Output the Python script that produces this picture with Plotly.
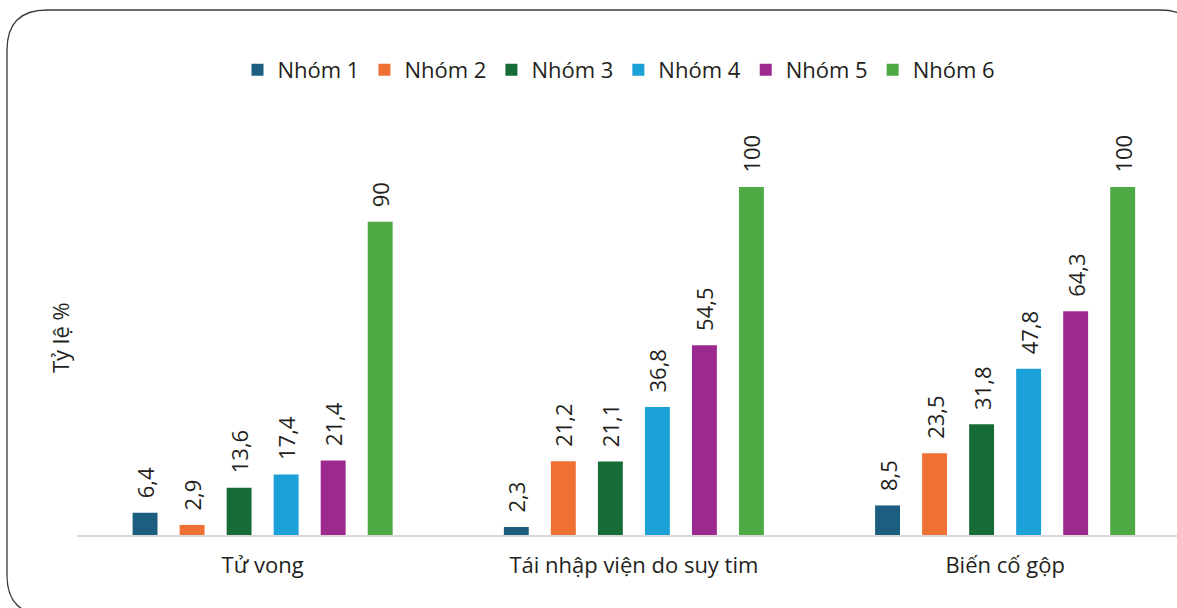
import plotly.graph_objects as go

# Outcome categories and group rates (%)
categories = ["Tử vong", "Tái nhập viện do suy tim", "Biến cố gộp"]
groups = ["Nhóm 1", "Nhóm 2", "Nhóm 3", "Nhóm 4", "Nhóm 5", "Nhóm 6"]
values = {
    "Nhóm 1": [6.4, 2.3, 8.5],
    "Nhóm 2": [2.9, 21.2, 23.5],
    "Nhóm 3": [13.6, 21.1, 31.8],
    "Nhóm 4": [17.4, 36.8, 47.8],
    "Nhóm 5": [21.4, 54.5, 64.3],
    "Nhóm 6": [90, 100, 100],
}
colors = ["#1b5e80", "#ee7032", "#176b36", "#1ba0d8", "#9c2a8e", "#4ea844"]
y_title = "Tỷ lệ %"

W, H = 1177, 608
L, R, T, B = 77, 0, 110, 73
FONT = "Open Sans"
TXT = "#231f20"
FS = 22


def fmt(v):
    s = f"{v:g}"
    return s.replace(".", ",")


fig = go.Figure()
for g, c in zip(groups, colors):
    vals = values[g]
    fig.add_trace(go.Bar(
        name=g,
        x=categories,
        y=vals,
        marker=dict(color=c, line=dict(width=0)),
        text=[fmt(v) for v in vals],
        texttemplate="\u00a0\u00a0%{text}",
        textposition="outside",
        textangle=-90,
        constraintext="none",
        textfont=dict(family=FONT, size=FS, color=TXT),
        cliponaxis=False,
    ))

pw = W - L - R
ph = H - T - B


def px(x):
    return (x - L) / pw


def py(y):
    return (H - B - y) / ph


# rounded frame around the chart
x0, y0, x1, y1, r = 7, 10, 1200, 615, 40
path = (
    f"M {px(x0)},{py(y0 + r)} "
    f"Q {px(x0)},{py(y0)} {px(x0 + r)},{py(y0)} "
    f"L {px(x1 - r)},{py(y0)} "
    f"Q {px(x1)},{py(y0)} {px(x1)},{py(y0 + r)} "
    f"L {px(x1)},{py(y1 - r)} "
    f"Q {px(x1)},{py(y1)} {px(x1 - r)},{py(y1)} "
    f"L {px(x0 + r)},{py(y1)} "
    f"Q {px(x0)},{py(y1)} {px(x0)},{py(y1 - r)} Z"
)

fig.update_layout(
    width=W, height=H,
    margin=dict(l=L, r=R, t=T, b=B, pad=0),
    paper_bgcolor="white",
    plot_bgcolor="white",
    barmode="group",
    bargap=0.24,
    bargroupgap=0.47,
    showlegend=True,
    legend=dict(
        orientation="h",
        x=px(619), xanchor="center",
        y=py(70), yanchor="middle",
        font=dict(family=FONT, size=FS, color=TXT),
        itemclick=False,
    ),
    xaxis=dict(
        range=[-0.5, 2 + (W - 1005) / 371.5],
        showline=True, linecolor="#d9d9d9", linewidth=2,
        showgrid=False, zeroline=False,
        ticks="", ticklabelstandoff=10,
        tickfont=dict(family=FONT, size=FS, color=TXT),
    ),
    yaxis=dict(
        range=[0, ph / 3.48],
        visible=False,
        showgrid=False, zeroline=False,
    ),
    shapes=[dict(
        type="path", path=path, xref="paper", yref="paper",
        line=dict(color="#3a3a3a", width=1.3), layer="above",
    )],
    annotations=[dict(
        text=y_title, textangle=-90,
        x=px(60), y=py(338), xref="paper", yref="paper",
        showarrow=False, xanchor="center", yanchor="middle",
        font=dict(family=FONT, size=FS, color=TXT),
    )],
)

fig.write_html("out.html")
